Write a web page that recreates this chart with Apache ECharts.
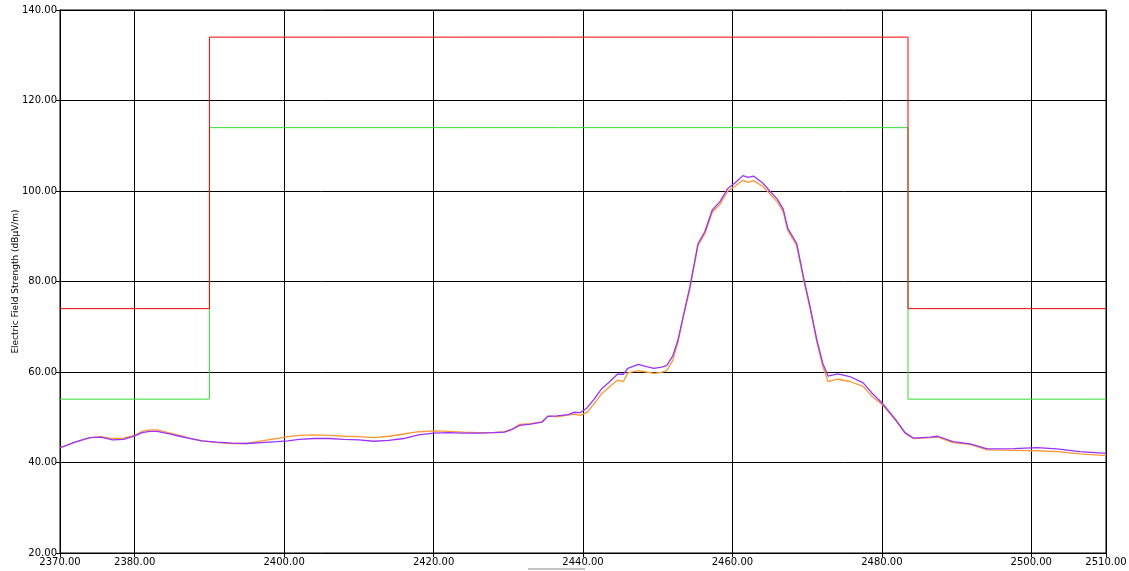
<!DOCTYPE html>
<html><head><meta charset="utf-8">
<script src="https://cdn.jsdelivr.net/npm/echarts@6/dist/echarts.min.js"></script>
<style>html,body{margin:0;padding:0;background:#fff}#c{width:1129px;height:571px}</style>
</head><body><div id="c"></div>
<script>
var freq = [2370,2372,2374,2375.5,2377,2378.5,2380,2381,2382,2383,2384.5,2386,2387.5,2389,2391,2393,2395,2397,2399,2400.5,
2402,2404,2406,2408,2410,2412,2414,2416,2418,2420,2422,2424,2426,2428,2429.5,2430.5,2431.5,2433,2434.5,2435.3,
2436.5,2438,2438.8,2439.6,2440.5,2441.5,2442.5,2443.6,2444.6,2445.4,2446,2447.4,2448.5,2449.5,2450.5,2451.2,2452,2452.7,2453.4,2454.3,
2455.4,2456.3,2457.3,2458.3,2459.4,2460.3,2461.4,2462.1,2462.8,2464.1,2465,2466,2466.8,2467.4,2468.6,2469.5,2470.4,2471.3,2472.1,2472.8,
2474.1,2475.7,2477.5,2478.7,2480,2481.8,2483.1,2484.2,2486.5,2487.5,2489.5,2491.8,2494.1,2497.6,2500.8,2503.4,2506.5,2510];
var purpleTrace = [43.2,44.5,45.5,45.6,45.0,45.1,45.9,46.6,46.9,46.9,46.4,45.8,45.3,44.8,44.5,44.3,44.2,44.4,44.6,44.8,
45.1,45.3,45.3,45.1,45.0,44.7,44.9,45.3,46.1,46.5,46.6,46.5,46.5,46.6,46.7,47.3,48.2,48.5,48.9,50.2,
50.3,50.6,51.1,51.0,52.0,54.0,56.3,57.9,59.5,59.5,60.8,61.7,61.2,60.8,61.1,61.4,63.5,67.0,72.2,78.8,
88.4,91.0,95.8,97.6,100.6,101.7,103.4,103.0,103.3,101.7,100.0,98.2,96.0,91.8,88.4,81.1,74.4,67.1,61.9,59.1,
59.6,59.0,57.6,55.3,53.2,49.6,46.6,45.4,45.6,45.8,44.6,44.1,43.0,43.05,43.3,43.0,42.4,42.0];
var orangeTrace = [43.3,44.5,45.5,45.7,45.3,45.4,46.0,46.9,47.2,47.2,46.6,46.0,45.3,44.8,44.4,44.2,44.2,44.8,45.3,45.7,
46.0,46.1,46.0,45.8,45.7,45.5,45.8,46.3,46.8,47.0,46.9,46.7,46.6,46.6,46.8,47.4,48.4,48.6,49.0,50.3,
50.1,50.5,50.7,50.4,51.0,53.0,55.2,56.8,58.2,57.9,59.8,60.3,60.0,59.7,59.9,60.3,62.5,66.5,72.0,78.3,
88.0,90.5,95.3,97.0,100.0,101.0,102.4,101.9,102.3,101.0,99.4,97.6,95.4,91.3,87.9,80.6,73.9,66.6,61.2,57.9,
58.4,57.9,56.8,54.6,52.9,49.4,46.5,45.3,45.5,45.6,44.4,44.0,42.8,42.7,42.6,42.4,41.9,41.5];
var limitFreq = [2370,2390,2390,2483.5,2483.5,2510];
var peakLimit = [74,74,134,134,74,74];
var avgLimit = [54,54,114,114,54,54];
var xTicks = [2370,2380,2400,2420,2440,2460,2480,2500,2510];

function pairs(xs, ys){ return xs.map(function(x,i){ return [x, ys[i]]; }); }

var chart = echarts.init(document.getElementById('c'));
var font = 'DejaVu Sans';
chart.setOption({
  animation: false,
  backgroundColor: '#ffffff',
  grid: { left: 60, right: 23, top: 10, bottom: 18, outerBoundsMode: 'none', containLabel: false,
    show: true, borderColor: '#000', borderWidth: 1, backgroundColor: 'transparent' },
  xAxis: {
    type: 'value', min: 2370, max: 2510,
    axisLine: { show: true, lineStyle: { color: '#000', width: 1 } },
    axisTick: { show: true, length: 4, customValues: xTicks, lineStyle: { color: '#000' } },
    axisLabel: { customValues: xTicks, color: '#000', fontFamily: font, fontSize: 10, margin: 4,
      formatter: function(v){ return v.toFixed(2); } },
    splitLine: { show: true, lineStyle: { color: '#000', width: 1 } }
  },
  yAxis: {
    type: 'value', min: 20, max: 140, interval: 20,
    name: 'Electric Field Strength (dBµV/m)', nameLocation: 'middle', nameGap: 40, nameRotate: 90,
    nameMoveOverlap: false,
    nameTextStyle: { color: '#000', fontFamily: font, fontSize: 9 },
    axisLine: { show: true, lineStyle: { color: '#000', width: 1 } },
    axisTick: { show: true, length: 4, lineStyle: { color: '#000' } },
    axisLabel: { color: '#000', fontFamily: font, fontSize: 10, margin: 3,
      formatter: function(v){ return v.toFixed(2); } },
    splitLine: { show: true, lineStyle: { color: '#000', width: 1 } }
  },
  graphic: [{ type: 'line', shape: { x1: 528, y1: 569, x2: 585, y2: 569 }, style: { stroke: '#888', lineWidth: 1 } }],
  series: [
    { type: 'line', data: pairs(limitFreq, avgLimit), showSymbol: false, lineStyle: { color: '#33dd33', width: 1 }, z: 2 },
    { type: 'line', data: pairs(limitFreq, peakLimit), showSymbol: false, lineStyle: { color: '#ff0000', width: 1 }, z: 3 },
    { type: 'line', data: pairs(freq, orangeTrace), showSymbol: false, lineStyle: { color: '#ff9933', width: 1.3 }, z: 4 },
    { type: 'line', data: pairs(freq, purpleTrace), showSymbol: false, lineStyle: { color: '#9933ff', width: 1.3 }, z: 5 }
  ]
});
</script></body></html>
